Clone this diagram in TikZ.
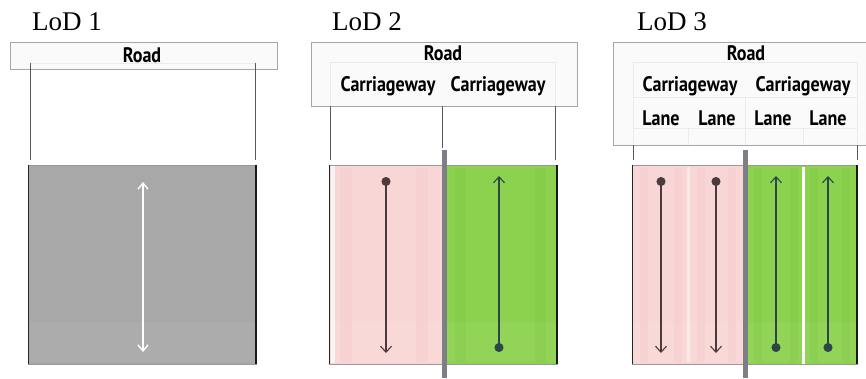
\documentclass[tikz,border=0pt]{standalone}
\usepackage{fontspec}
\setmainfont{Liberation Serif}
\newfontfamily\lblfont{PT Sans}
\usetikzlibrary{arrows.meta}
\definecolor{pinkfill}{HTML}{F9D6D6}
\definecolor{pinkstripe}{HTML}{F7D0D1}
\definecolor{greenfill}{HTML}{8CD24E}
\definecolor{greenstripe}{HTML}{86CD4A}
\definecolor{roadgray}{HTML}{A8A8A8}
\definecolor{mediangray}{HTML}{7E7E86}
\definecolor{pinkarrow}{HTML}{4D3A3C}
\definecolor{greenarrow}{HTML}{2C4648}
\newcommand\lbtxt[1]{\scalebox{0.86}[1]{\lblfont\bfseries #1}}
\tikzset{
  title/.style={font=\fontsize{27}{30}\selectfont, anchor=base west, inner sep=0pt},
  lbl/.style={font=\fontsize{21}{23}\selectfont, inner sep=0pt},
  hdrbox/.style={draw=black!35, fill=black!2, line width=0.8pt},
  faint/.style={draw=black!8, line width=0.6pt},
  conn/.style={draw=black!65, line width=0.7pt},
  edgeL/.style={draw=black!85, line width=1.4pt},
  edgeR/.style={draw=black!90, line width=2pt},
  median/.style={fill=mediangray},
  downarrow/.style={draw=pinkarrow, line width=1.1pt, {Circle[length=9pt]}-{Straight Barb[length=6pt,width=11pt]}},
  uparrow/.style={draw=greenarrow, line width=1.1pt, {Circle[length=9pt]}-{Straight Barb[length=6pt,width=11pt]}},
  whitearrow/.style={draw=white, line width=1.4pt, {Straight Barb[length=6pt,width=10pt]}-{Straight Barb[length=6pt,width=10pt]}},
}
\begin{document}
\begin{tikzpicture}[x=1pt,y=-1pt]
\useasboundingbox (0,0) rectangle (866,378);
\fill[white] (0,0) rectangle (866,378);

% ================= LoD 1 =================
\node[title] (t1) at (32,30) {LoD 1};
\draw[hdrbox] (10,42) rectangle (277,69);
\draw[faint] (30,63) -- (255,63);
\node[lbl] (road1) at (142,55) {\lbtxt{Road}};
\fill[roadgray] (28,165) rectangle (257,364);
\fill[white,opacity=0.05] (30,322) rectangle (255,362);
\draw[black!40, line width=0.6pt] (28,165) -- (257,165) (28,364) -- (257,364);
\draw[edgeL] (28.5,165) -- (28.5,364);
\draw[edgeR] (256,165) -- (256,364);
\coordinate (h1a) at (30,63);  \coordinate (r1a) at (30,160);
\coordinate (h1b) at (255,63); \coordinate (r1b) at (255,160);
\draw[conn] (h1a) -- (r1a);
\draw[conn] (h1b) -- (r1b);
\coordinate (w1s) at (143,182); \coordinate (w1e) at (143,352);
\draw[whitearrow] (w1s) -- (w1e);

% ================= LoD 2 =================
\node[title] (t2) at (332,30) {LoD 2};
\draw[hdrbox] (311,42) rectangle (577,106);
\draw[faint] (330,62) -- (555,62);
\node[lbl] (road2) at (443,53) {\lbtxt{Road}};
\node[lbl] (cw2a) at (388,86) {\lbtxt{Carriageway}};
\node[lbl] (cw2b) at (498,86) {\lbtxt{Carriageway}};
\fill[pinkfill] (329,165) rectangle (442,364);
\fill[black!4] (331,166) rectangle (335,363);
\fill[pinkstripe] (340,168) rectangle (352,362);
\fill[pinkstripe] (416,168) rectangle (428,362);
\fill[greenfill] (446,165) rectangle (558,364);
\fill[greenstripe] (455,168) rectangle (466,362);
\fill[greenstripe] (535,168) rectangle (546,362);
\fill[white,opacity=0.05] (331,322) rectangle (556,362);
\draw[black!40, line width=0.6pt] (329,165) -- (558,165) (329,364) -- (558,364);
\draw[edgeL] (329.5,165) -- (329.5,364);
\draw[edgeR] (557,165) -- (557,364);
\fill[median] (442,150) rectangle (447,378);
\coordinate (h2a) at (330,62);  \coordinate (r2a) at (330,160);
\coordinate (h2b) at (442,95);  \coordinate (r2b) at (442,148);
\coordinate (h2c) at (555,62);  \coordinate (r2c) at (555,160);
\draw[faint] (h2a) -- (330,106);
\draw[faint] (h2c) -- (555,106);
\draw[conn] (330,106) -- (r2a);
\draw[conn] (442,106) -- (r2b);
\draw[conn] (555,106) -- (r2c);
\coordinate (a2s) at (386,177); \coordinate (a2e) at (386,353);
\coordinate (b2s) at (499,352); \coordinate (b2e) at (499,176);
\draw[downarrow] (a2s) -- (a2e);
\draw[uparrow] (b2s) -- (b2e);

% ================= LoD 3 =================
\node[title] (t3) at (637,30) {LoD 3};
\draw[hdrbox] (613,42) rectangle (866.5,145);
\draw[faint] (633,62) -- (857,62);
\draw[faint] (633,97) -- (857,97);
\draw[faint] (633,128) -- (857,128);
\draw[faint] (633,62) -- (633,145) (857,62) -- (857,145) (745,97) -- (745,145) (688,128) -- (688,145) (803,128) -- (803,145);
\node[lbl] (road3) at (746,53) {\lbtxt{Road}};
\node[lbl] (cw3a) at (690,86) {\lbtxt{Carriageway}};
\node[lbl] (cw3b) at (803,86) {\lbtxt{Carriageway}};
\node[lbl] (ln3a) at (661,118) {\lbtxt{Lane}};
\node[lbl] (ln3b) at (717,118) {\lbtxt{Lane}};
\node[lbl] (ln3c) at (773,118) {\lbtxt{Lane}};
\node[lbl] (ln3d) at (828,118) {\lbtxt{Lane}};
\fill[pinkfill] (632,165) rectangle (743,364);
\fill[pinkstripe] (640,168) rectangle (648,362);
\fill[pinkstripe] (674,168) rectangle (682,362);
\fill[pinkstripe] (697,168) rectangle (705,362);
\fill[pinkstripe] (728,168) rectangle (736,362);
\fill[white,opacity=0.5] (687,167) rectangle (689.5,362);
\fill[greenfill] (747,165) rectangle (858,364);
\fill[greenstripe] (754,168) rectangle (762,362);
\fill[greenstripe] (790,168) rectangle (798,362);
\fill[greenstripe] (810,168) rectangle (818,362);
\fill[greenstripe] (842,168) rectangle (850,362);
\fill[white] (802,167) rectangle (804.5,364);
\fill[white,opacity=0.05] (634,322) rectangle (856,362);
\draw[black!40, line width=0.6pt] (632,165) -- (858,165) (632,364) -- (858,364);
\draw[edgeL] (632.5,165) -- (632.5,364);
\draw[edgeR] (857,165) -- (857,364);
\fill[median] (743,150) rectangle (748,378);
\coordinate (h3a) at (633,145); \coordinate (r3a) at (633,160);
\coordinate (h3c) at (857,145); \coordinate (r3c) at (857,160);
\draw[conn] (h3a) -- (r3a);
\draw[conn] (h3c) -- (r3c);
\coordinate (a3s) at (661,177); \coordinate (a3e) at (661,353);
\coordinate (c3s) at (716,177); \coordinate (c3e) at (716,353);
\coordinate (b3s) at (776,352); \coordinate (b3e) at (776,176);
\coordinate (d3s) at (828,352); \coordinate (d3e) at (828,176);
\draw[downarrow] (a3s) -- (a3e);
\draw[downarrow] (c3s) -- (c3e);
\draw[uparrow] (b3s) -- (b3e);
\draw[uparrow] (d3s) -- (d3e);
\end{tikzpicture}
\end{document}
